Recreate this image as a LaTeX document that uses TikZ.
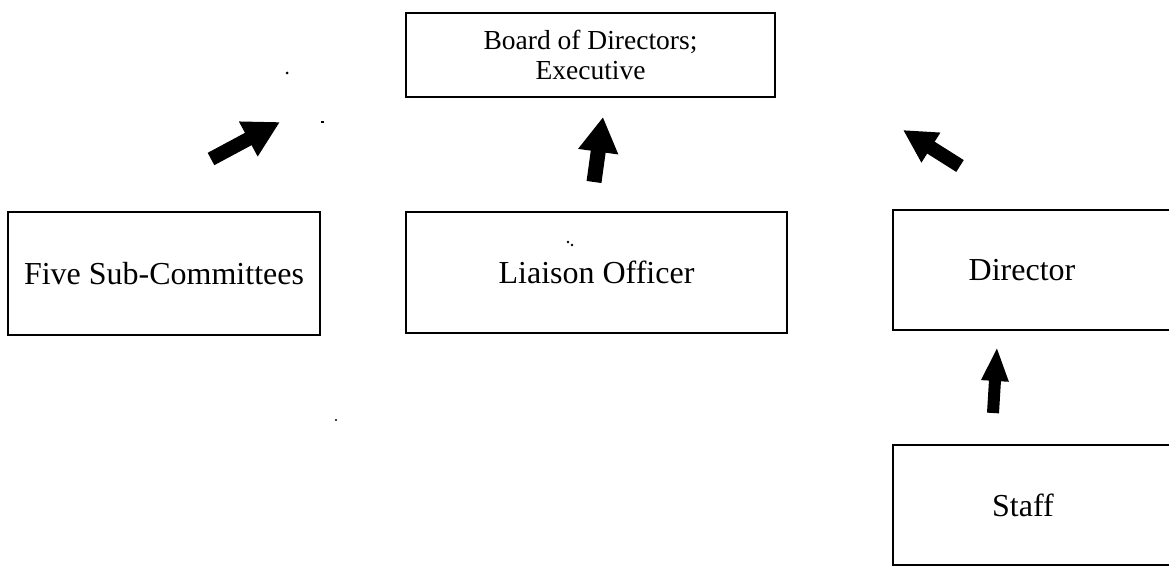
\documentclass[tikz,border=0pt]{standalone}
\usepackage{fontspec}
\setmainfont{Liberation Serif}
\usetikzlibrary{arrows.meta}
\begin{document}
\begin{tikzpicture}[x=1pt,y=1pt,
  box/.style={draw, line width=2.8pt, inner sep=0pt, font=\fontsize{32}{36}\selectfont},
  blk/.style={line width=14pt, -{Triangle[length=36pt,width=37pt]}},
  speck/.style={fill=black}]
\useasboundingbox (0,0) rectangle (1169,-567);
\clip (0,0) rectangle (1169,-567);
\node[box, minimum width=369pt, minimum height=84pt, align=center,
      font=\fontsize{27.5}{30}\selectfont] (board) at (590.5,-55) {Board of Directors;\\Executive};
\node[box, minimum width=312pt, minimum height=123pt] (five) at (164,-273.5) {Five Sub-Committees};
\node[box, minimum width=381pt, minimum height=121pt] (liaison) at (596.5,-272.5) {Liaison Officer};
\node[box, minimum width=300pt, minimum height=120pt] (director) at (1043,-270) {Director\kern42pt};
\node[box, minimum width=300pt, minimum height=120pt] (staff) at (1043,-505) {Staff\kern40pt};
% arrow end points
\coordinate (a1s) at (211,-159); \coordinate (a1e) at (280,-122);
\coordinate (a2s) at (594,-182); \coordinate (a2e) at (603,-117);
\coordinate (a3s) at (960,-166); \coordinate (a3e) at (903,-130);
\coordinate (a4s) at (993,-413); \coordinate (a4e) at (997,-347);
\draw[blk] (a1s) -- (a1e);
\draw[blk, line width=15pt, -{Triangle[length=35pt,width=38pt]}] (a2s) -- (a2e);
\draw[blk, -{Triangle[length=33pt,width=33pt]}] (a3s) -- (a3e);
\draw[blk, line width=12pt, -{Triangle[length=34pt,width=25pt]}] (a4s) -- (a4e);
% scan specks
\fill[speck] (287,-73) circle (1.5);
\fill[speck] (321,-121.5) rectangle (324,-123);
\fill[speck] (336,-420) circle (1.2);
\fill[speck] (568,-242) circle (1.3);
\fill[speck] (572,-245) circle (1.3);
\end{tikzpicture}
\end{document}
